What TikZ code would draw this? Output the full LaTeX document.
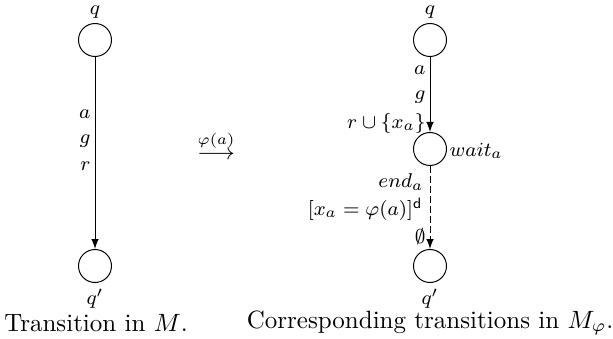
\documentclass[tikz,border=0pt]{standalone}
\usetikzlibrary{arrows}
\begin{document}
\begin{tikzpicture}[x=0.4pt,y=-0.4pt,
  state/.style={circle,draw,minimum size=13.2pt,inner sep=0pt},
  lbl/.style={inner sep=0pt,font=\footnotesize},
  elbl/.style={inner sep=0pt,anchor=east,font=\footnotesize},
  arr/.style={-latex,thin}]
\useasboundingbox (0,0) rectangle (613,339);
% left
\node[state] (q1) at (95,40) {};
\node[lbl] (q1l) at (95,12) {$q$};
\node[state] (p1) at (95,266) {};
\node[lbl] (p1l) at (95,299) {$q'$};
\draw[arr] (q1) -- (p1);
\node[elbl] (la) at (91,114) {$a$};
\node[elbl] (lg) at (91,141) {$g$};
\node[elbl] (lr) at (91,166) {$r$};
\node[inner sep=0pt] (c1) at (96,323) {Transition in $M$.};
% middle
\node[inner sep=0pt,font=\small] (mid) at (216,145) {$\stackrel{\varphi(a)}{\longrightarrow}$};
% right
\node[state] (q2) at (430,40) {};
\node[lbl] (q2l) at (430,12) {$q$};
\node[state] (w) at (430,149) {};
\node[lbl,anchor=west] (wl) at (449,151) {$wait_a$};
\node[state] (p2) at (430,266) {};
\node[lbl] (p2l) at (430,299) {$q'$};
\draw[arr] (q2) -- (w);
\draw[arr,dashed,dash pattern=on 2.6pt off 1.4pt] (w) -- (p2);
\node[elbl] (ra) at (426,70) {$a$};
\node[elbl] (rg) at (426,97) {$g$};
\node[elbl] (rr) at (426,123) {$r\cup\{x_a\}$};
\node[elbl] (re) at (424,182) {$end_a$};
\node[elbl] (rx) at (423,209) {$[x_a=\varphi(a)]^{\mathsf{d}}$};
\node[elbl] (rz) at (426,237) {$\emptyset$};
\node[inner sep=0pt] (c2) at (430,323) {Corresponding transitions in $M_\varphi$.};
\end{tikzpicture}
\end{document}
